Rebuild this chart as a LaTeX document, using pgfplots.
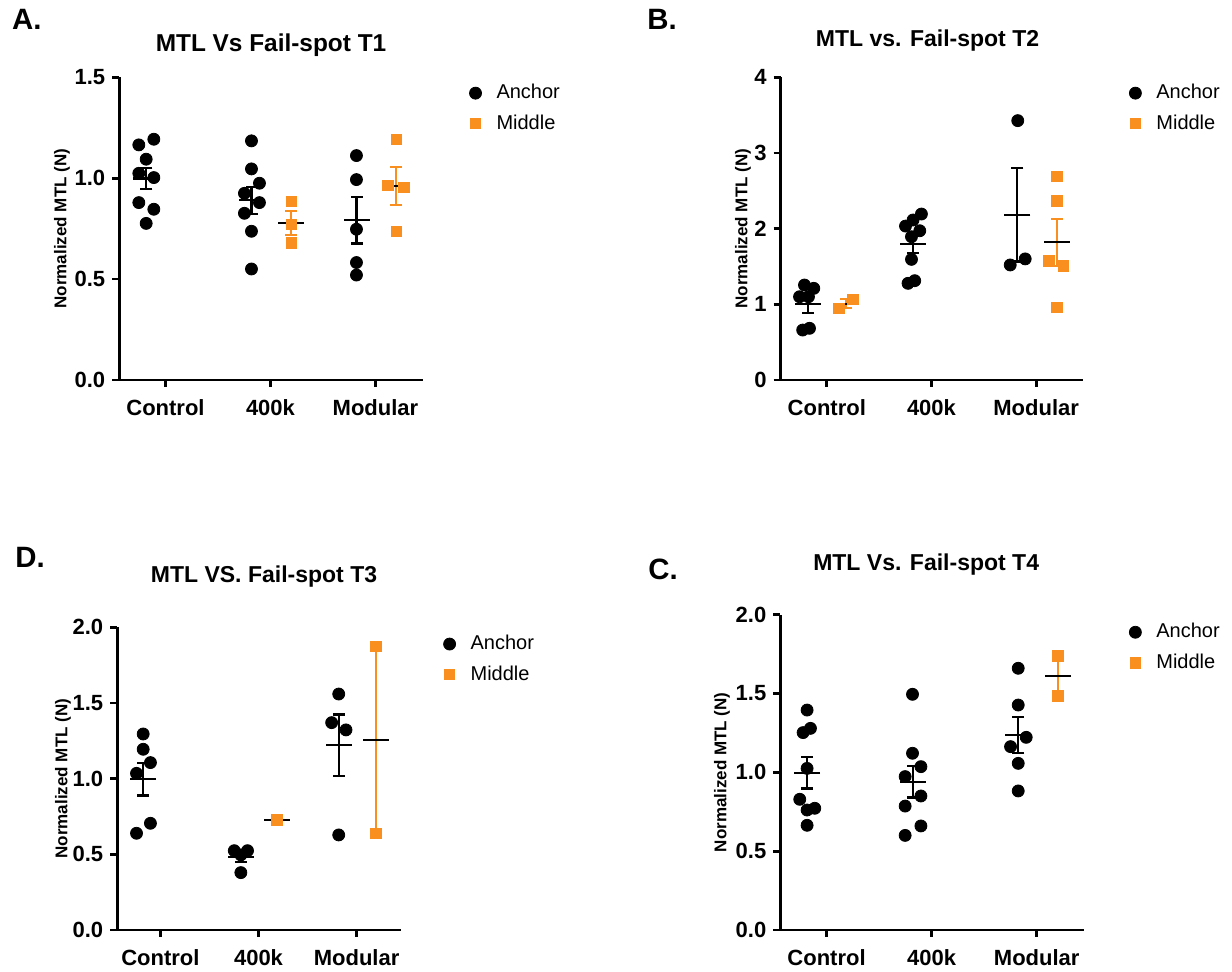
\documentclass[border=0pt]{standalone}
\usepackage{pgfplots}
\pgfplotsset{compat=1.18}
\usepackage{fontspec}
\setmainfont{Liberation Sans}
\definecolor{orangeC}{RGB}{248,143,30}
\pgfplotsset{
 panel/.style={
  scale only axis, axis x line=bottom, axis y line=left,
  axis line style={-, line width=1.4pt},
  tick align=outside, major tick length=3.5pt,
  every tick/.style={black, line width=1.4pt},
  xmin=-0.44, xmax=2.45, xtick={0,1,2}, xticklabels={Control,400k,Modular},
  ymin=0, clip=false,
  /pgf/number format/assume math mode=true,
  tick label style={font=\bfseries\fontsize{11}{13}\selectfont},
  xticklabel style={yshift=-3pt},
  ylabel={Normalized MTL (N)},
  ylabel style={font=\bfseries\fontsize{8.5}{10}\selectfont, at={(axis description cs:0,0.5)}, anchor=center},
  title style={font=\bfseries\fontsize{11.5}{13}\selectfont, at={(axis description cs:0.5,1)}, anchor=base, yshift=-6pt},
  legend cell align=left,
  legend style={draw=none, fill=none, inner sep=0pt, anchor=north west,
    font=\fontsize{10}{12}\selectfont, row sep=2.5pt},
 },
 onedec/.style={yticklabel style={/pgf/number format/fixed, /pgf/number format/fixed zerofill, /pgf/number format/precision=1}},
 anc/.style={only marks, mark=*, mark size=3pt, black, mark options={fill=black, draw=black},
   legend image code/.code={\draw[##1] plot coordinates {(0pt,0pt)}; \path[draw=none, fill=none] (0pt,0pt) -- (8.5pt,0pt);}},
 mid/.style={only marks, mark=square*, mark size=2.6pt, orangeC, mark options={fill=orangeC, draw=orangeC},
   legend image code/.code={\draw[##1] plot coordinates {(0pt,0pt)}; \path[draw=none, fill=none] (-3pt,0pt) -- (8.5pt,0pt);}},
 meanA/.style={only marks, black, mark=-, mark size=6.5pt, mark options={line width=1.1pt, black}, forget plot,
   error bars/.cd, y dir=both, y explicit, error bar style={line width=1.1pt, black}, error mark=none},
 meanM/.style={only marks, black, mark=-, mark size=6.5pt, mark options={line width=1.1pt, black}, forget plot,
   error bars/.cd, y dir=both, y explicit, error bar style={line width=1.1pt, orangeC}, error mark=none},
 capA/.style={only marks, mark=-, mark size=3pt, mark options={line width=1.1pt, black}, forget plot},
 capM/.style={only marks, mark=-, mark size=3pt, mark options={line width=1.1pt, orangeC}, forget plot},
}
\begin{document}
\begin{tikzpicture}
\useasboundingbox (0,0) rectangle (616pt,486pt);
\node[inner sep=0pt, anchor=base west, font=\bfseries\fontsize{14.7}{16}\selectfont] at (5.85pt,471.35pt) {A.};
\node[inner sep=0pt, anchor=base west, font=\bfseries\fontsize{14.7}{16}\selectfont] at (323.5pt,471.35pt) {B.};
\node[inner sep=0pt, anchor=base west, font=\bfseries\fontsize{14.7}{16}\selectfont] at (7.5pt,202pt) {D.};
\node[inner sep=0pt, anchor=base west, font=\bfseries\fontsize{14.7}{16}\selectfont] at (324pt,196pt) {C.};

% ---------- Panel A ----------
\begin{axis}[panel, onedec, at={(59.65pt,296pt)}, anchor=south west, width=151.7pt, height=151.35pt,
  ymax=1.5, ytick={0,0.5,1.0,1.5},
  title={MTL Vs Fail-spot T1}, title style={yshift=12.8pt, font=\bfseries\fontsize{12.2}{14}\selectfont},
  ylabel style={yshift=28.65pt},
  legend style={at={(axis description cs:1.153,0.991)}}]
\addplot[meanA] coordinates {(-0.183,0.998) +- (0,0.052) (0.82,0.890) +- (0,0.068) (1.82,0.791) +- (0,0.115)};
\addplot[meanM] coordinates {(1.195,0.778) +- (0,0.058) (2.197,0.962) +- (0,0.094)};
\addplot[capA] coordinates {(-0.183,1.050) (-0.183,0.946) (0.82,0.958) (0.82,0.822) (1.82,0.906) (1.82,0.676)};
\addplot[capM] coordinates {(1.195,0.836) (1.195,0.720) (2.197,1.056) (2.197,0.868)};
\addplot[anc] coordinates {(-0.254,1.165) (-0.111,1.193) (-0.184,1.094) (-0.254,1.024) (-0.111,1.003) (-0.254,0.879) (-0.111,0.846) (-0.184,0.776)
 (0.819,1.185) (0.819,1.046) (0.895,0.975) (0.752,0.925) (0.895,0.879) (0.752,0.826) (0.819,0.737) (0.819,0.550)
 (1.819,1.112) (1.819,0.993) (1.819,0.747) (1.819,0.582) (1.819,0.520)};
\addlegendentry{Anchor}
\addplot[mid] coordinates {(1.197,0.886) (1.197,0.770) (1.197,0.679) (2.197,1.193) (2.117,0.963) (2.27,0.955) (2.197,0.737)};
\addlegendentry{Middle}
\end{axis}

% ---------- Panel B ----------
\begin{axis}[panel, at={(390.35pt,296pt)}, anchor=south west, width=151.3pt, height=151.35pt,
  ymax=4, ytick={0,1,2,3,4},
  title={MTL vs. Fail-spot T2}, title style={yshift=15.3pt, xshift=-2.25pt},
  ylabel style={yshift=18.85pt},
  legend style={at={(axis description cs:1.151,0.991)}}]
\addplot[meanA] coordinates {(-0.18,1.0) +- (0,0.11) (0.82,1.80) +- (0,0.12) (1.82,2.185) +- (0,0.62)};
\addplot[meanM] coordinates {(0.18,1.007) +- (0,0.06) (2.197,1.819) +- (0,0.31)};
\addplot[capA] coordinates {(-0.18,1.11) (-0.18,0.89) (0.82,1.92) (0.82,1.68) (1.82,2.805) (1.82,1.565)};
\addplot[capM] coordinates {(0.18,1.067) (0.18,0.947) (2.197,2.129) (2.197,1.509)};
\addplot[anc] coordinates {(-0.213,1.255) (-0.124,1.211) (-0.26,1.10) (-0.175,1.10) (-0.23,0.66) (-0.165,0.683)
 (0.904,2.193) (0.824,2.114) (0.752,2.034) (0.888,1.972) (0.809,1.893) (0.809,1.594) (0.84,1.312) (0.776,1.277)
 (1.824,3.427) (1.752,1.52) (1.895,1.60)};
\addlegendentry{Anchor}
\addplot[mid] coordinates {(0.115,0.947) (0.248,1.066) (2.197,2.687) (2.197,2.366) (2.12,1.573) (2.261,1.507) (2.197,0.960)};
\addlegendentry{Middle}
\end{axis}

% ---------- Panel D ----------
\begin{axis}[panel, onedec, at={(58.65pt,21pt)}, anchor=south west, width=141.7pt, height=151.35pt,
  ymax=2, ytick={0,0.5,1.0,1.5,2.0},
  title={MTL VS. Fail-spot T3}, title style={yshift=22.6pt, xshift=2.5pt},
  ylabel style={yshift=27.15pt},
  legend style={at={(axis description cs:1.150,0.988)}}]
\addplot[meanA] coordinates {(-0.176,0.996) +- (0,0.108) (0.82,0.48) +- (0,0.033) (1.818,1.22) +- (0,0.204)};
\addplot[meanM] coordinates {(1.186,0.727) +- (0,0) (2.197,1.256) +- (0,0.617)};
\addplot[capA] coordinates {(-0.176,1.104) (-0.176,0.888) (0.82,0.513) (0.82,0.447) (1.818,1.424) (1.818,1.016)};
\addplot[capM] coordinates {(2.197,1.873) (2.197,0.639)};
\addplot[anc] coordinates {(-0.176,1.295) (-0.176,1.194) (-0.102,1.106) (-0.244,1.035) (-0.102,0.705) (-0.244,0.639)
 (0.753,0.524) (0.888,0.524) (0.82,0.496) (0.82,0.379)
 (1.818,1.559) (1.746,1.370) (1.892,1.322) (1.818,0.628)};
\addlegendentry{Anchor}
\addplot[mid] coordinates {(1.186,0.727) (2.197,1.872) (2.197,0.639)};
\addlegendentry{Middle}
\end{axis}

% ---------- Panel C ----------
\begin{axis}[panel, onedec, at={(390.15pt,21pt)}, anchor=south west, width=151.85pt, height=157.65pt,
  ymax=2, ytick={0,0.5,1.0,1.5,2.0},
  title={MTL Vs. Fail-spot T4}, title style={yshift=22.3pt, xshift=-3pt},
  ylabel style={yshift=29.15pt},
  legend style={at={(axis description cs:1.148,0.986)}}]
\addplot[meanA] coordinates {(-0.185,0.998) +- (0,0.1) (0.82,0.941) +- (0,0.1) (1.824,1.237) +- (0,0.114)};
\addplot[meanM] coordinates {(2.203,1.611) +- (0,0.127)};
\addplot[capA] coordinates {(-0.185,1.098) (-0.185,0.898) (0.82,1.041) (0.82,0.841) (1.824,1.351) (1.824,1.123)};
\addplot[capM] coordinates {(2.203,1.738) (2.203,1.484)};
\addplot[anc] coordinates {(-0.185,1.395) (-0.223,1.252) (-0.153,1.279) (-0.185,1.025) (-0.255,0.829) (-0.112,0.772) (-0.185,0.761) (-0.185,0.664)
 (0.818,1.495) (0.818,1.121) (0.898,1.036) (0.748,0.973) (0.898,0.850) (0.748,0.786) (0.898,0.660) (0.748,0.600)
 (1.824,1.660) (1.824,1.427) (1.9,1.222) (1.751,1.163) (1.824,1.057) (1.824,0.882)};
\addlegendentry{Anchor}
\addplot[mid] coordinates {(2.203,1.738) (2.203,1.484)};
\addlegendentry{Middle}
\end{axis}
\end{tikzpicture}
\end{document}
